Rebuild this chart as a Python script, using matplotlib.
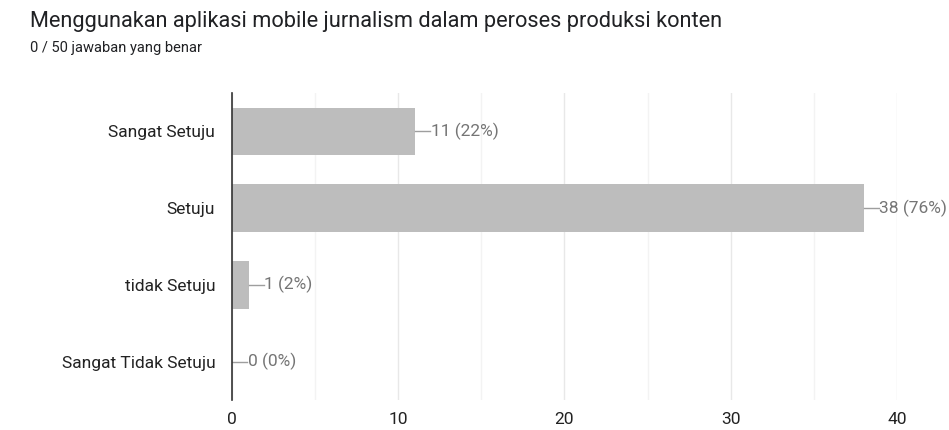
import matplotlib.pyplot as plt
import numpy as np

# data
categories = ['Sangat Setuju', 'Setuju', 'tidak Setuju', 'Sangat Tidak Setuju']
counts = [11, 38, 1, 0]
percents = [22, 76, 2, 0]
xticks = [0, 10, 20, 30, 40]

plt.rcParams['font.family'] = ['Roboto', 'DejaVu Sans']

fig = plt.figure(figsize=(9.49, 4.3), dpi=100)
ax = fig.add_axes([0.2445, 0.0698, 0.7005, 0.714])

y = np.arange(len(categories))
ax.barh(y, counts, height=0.62, color='#bdbdbd', zorder=3)

# leader lines + labels
for yi, c, p in zip(y, counts, percents):
    ax.plot([c, c + 0.9], [yi, yi], color='#9e9e9e', lw=1, zorder=4)
    ax.text(c + 0.95, yi, '%d (%d%%)' % (c, p), va='center', ha='left',
            fontsize=12.5, color='#757575')

ax.set_ylim(len(categories) - 0.5, -0.5)
ax.set_xlim(0, 40)
ax.set_yticks(y)
ax.set_yticklabels(categories, fontsize=12.5, color='#222222')
ax.set_xticks(xticks)
ax.set_xticklabels([str(t) for t in xticks], fontsize=12.5, color='#222222')
ax.set_xticks(np.arange(5, 40, 10), minor=True)

ax.grid(axis='x', which='major', color='#e8e8e8', lw=1, zorder=0)
ax.grid(axis='x', which='minor', color='#f3f3f3', lw=1, zorder=0)
ax.tick_params(axis='both', which='both', length=0)
ax.tick_params(axis='y', pad=12)
ax.tick_params(axis='x', pad=9)

for s in ['top', 'right', 'bottom']:
    ax.spines[s].set_visible(False)
ax.spines['left'].set_color('#333333')
ax.spines['left'].set_linewidth(1.2)
ax.spines['left'].set_zorder(5)

fig.text(30 / 949, 1 - 21 / 430, 'Menggunakan aplikasi mobile jurnalism dalam peroses produksi konten',
         fontsize=15.7, color='#202124', va='center', ha='left')
fig.text(30 / 949, 1 - 48 / 430, '0 / 50 jawaban yang benar',
         fontsize=10.5, color='#202124', va='center', ha='left')

plt.savefig('out.png', dpi=100)
